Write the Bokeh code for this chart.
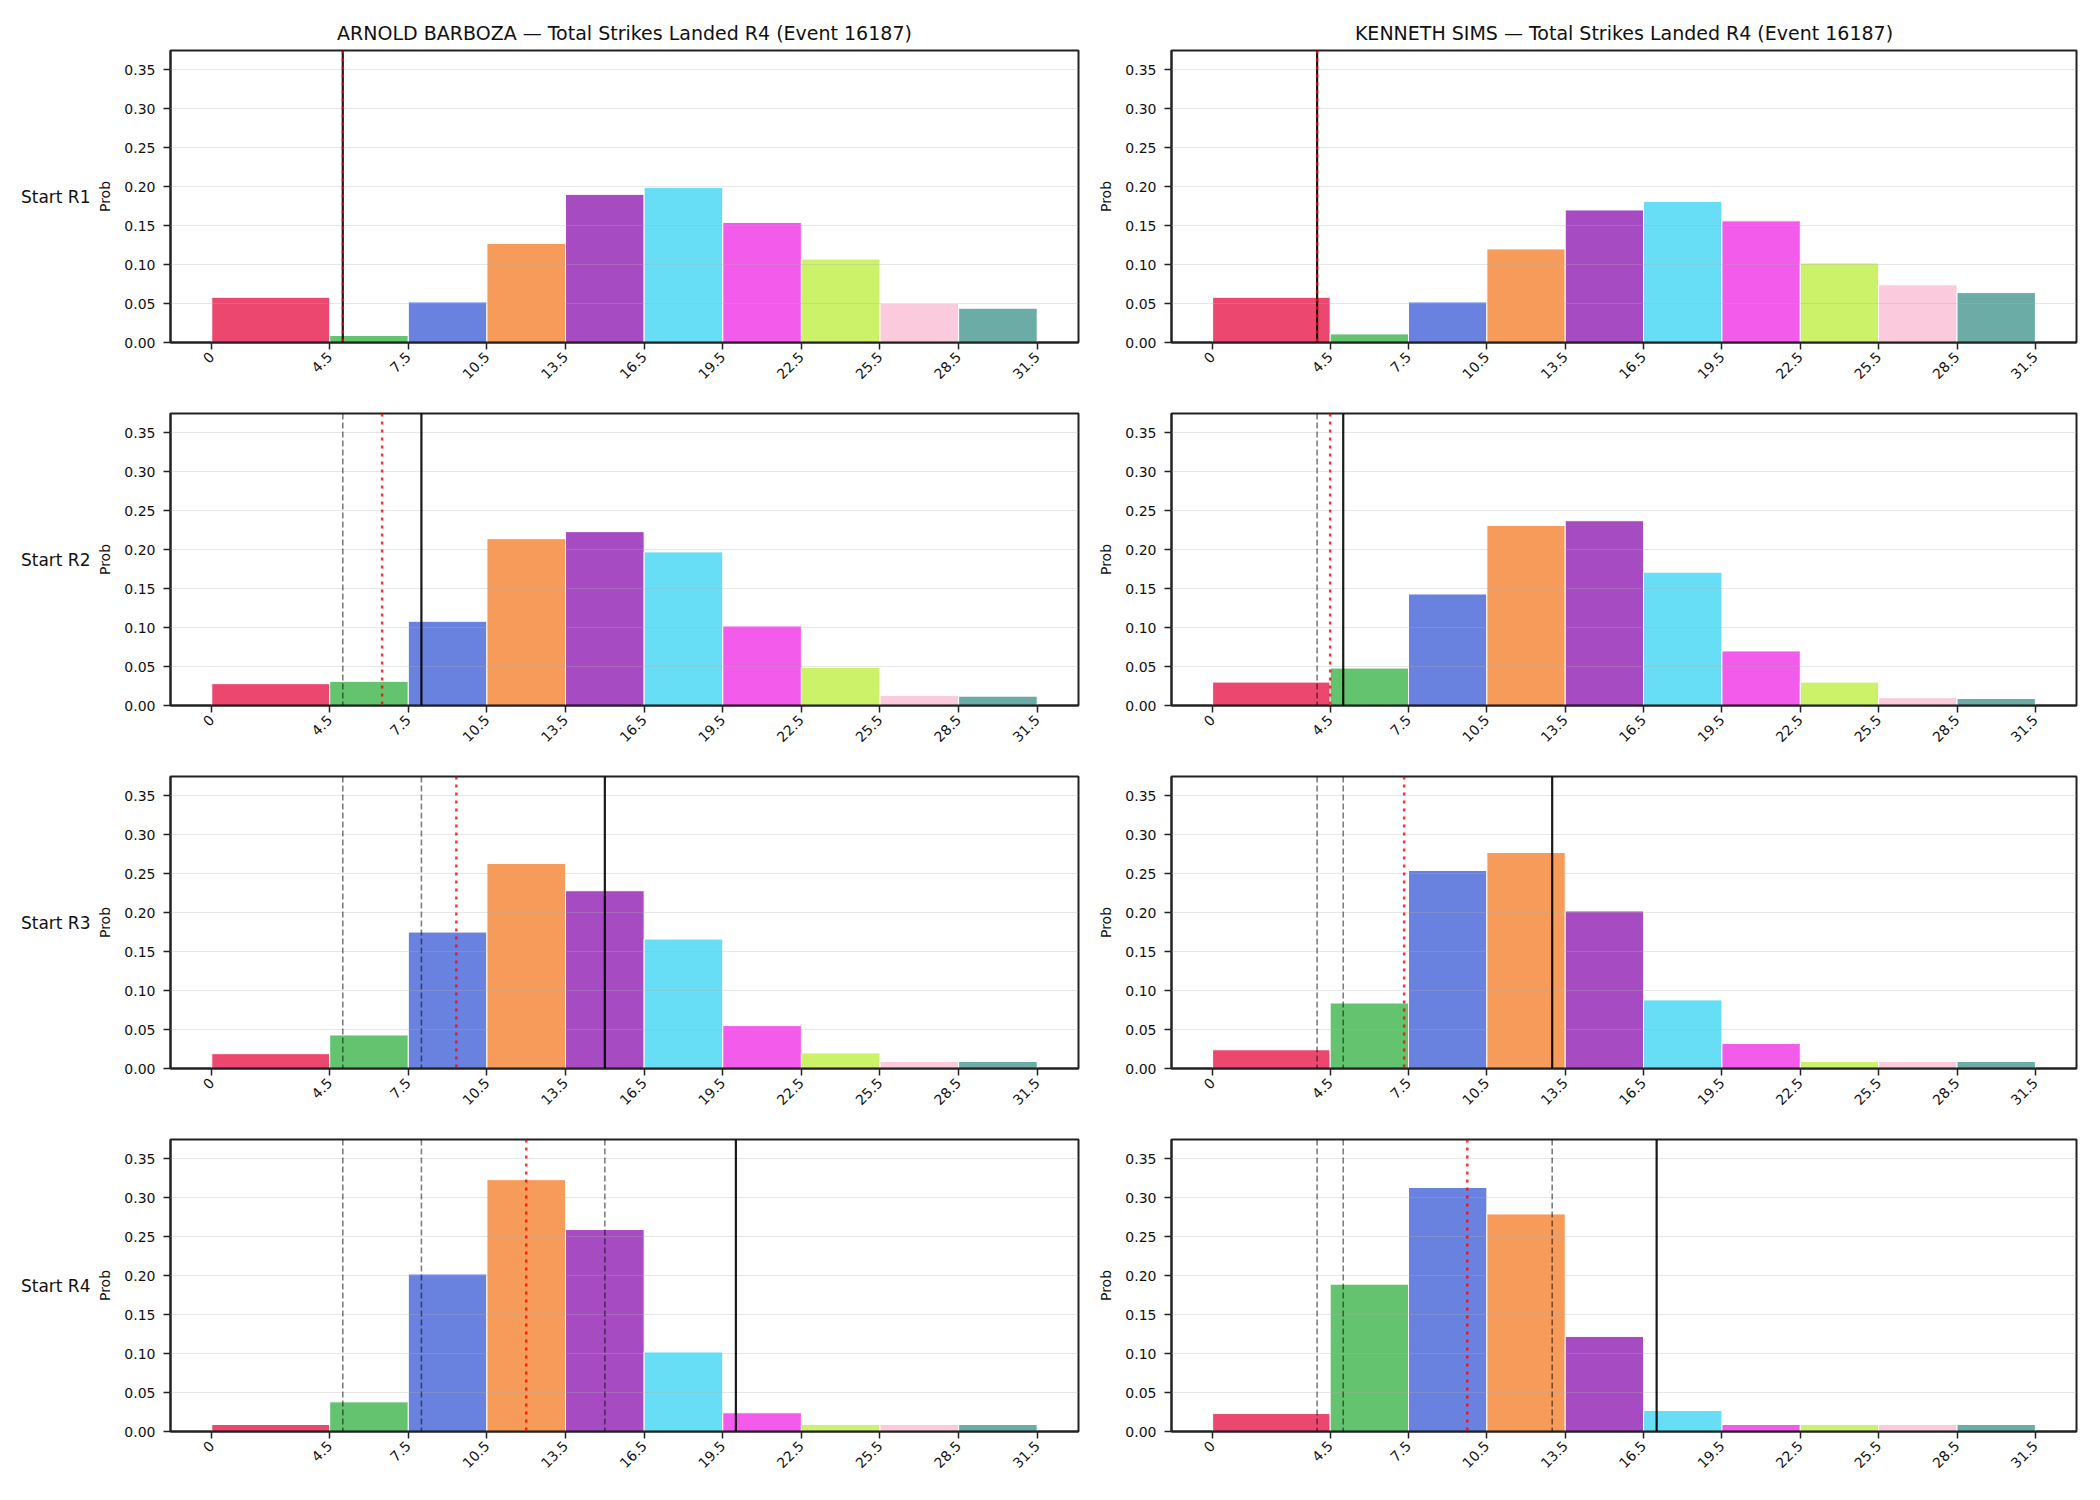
import math
import numpy as np
from bokeh.plotting import figure
from bokeh.layouts import column, row
from bokeh.models import FixedTicker, LinearAxis, Span, Range1d, NumeralTickFormatter
from bokeh.embed import file_html
from bokeh.resources import INLINE

# ---- data -------------------------------------------------------------
bin_edges = [0, 4.5, 7.5, 10.5, 13.5, 16.5, 19.5, 22.5, 25.5, 28.5, 31.5]
x_tick_labels = ["0", "4.5", "7.5", "10.5", "13.5", "16.5", "19.5", "22.5", "25.5", "28.5", "31.5"]
y_ticks = [0.0, 0.05, 0.10, 0.15, 0.20, 0.25, 0.30, 0.35]
bin_colors = ["#e6194b", "#3cb44b", "#4363d8", "#f58231", "#911eb4",
              "#42d4f4", "#f032e6", "#bfef45", "#fabed4", "#469990"]

fighters = ["ARNOLD BARBOZA", "KENNETH SIMS"]
row_labels = ["Start R1", "Start R2", "Start R3", "Start R4"]
stat_name = "Total Strikes Landed R4"
event_id = 16187

barboza_r1 = [0.058, 0.009, 0.052, 0.127, 0.190, 0.199, 0.154, 0.107, 0.050, 0.044]
barboza_r2 = [0.028, 0.031, 0.108, 0.214, 0.223, 0.197, 0.102, 0.049, 0.013, 0.012]
barboza_r3 = [0.019, 0.043, 0.175, 0.263, 0.228, 0.166, 0.055, 0.020, 0.009, 0.009]
barboza_r4 = [0.009, 0.038, 0.202, 0.323, 0.259, 0.102, 0.024, 0.009, 0.009, 0.009]

sims_r1 = [0.058, 0.011, 0.052, 0.120, 0.170, 0.181, 0.156, 0.102, 0.074, 0.064]
sims_r2 = [0.030, 0.048, 0.143, 0.231, 0.237, 0.171, 0.070, 0.030, 0.010, 0.009]
sims_r3 = [0.024, 0.084, 0.254, 0.277, 0.202, 0.088, 0.032, 0.009, 0.009, 0.009]
sims_r4 = [0.023, 0.189, 0.313, 0.279, 0.122, 0.027, 0.009, 0.009, 0.009, 0.009]

# cumulative landed strikes observed at each round start
barboza_landed = [5, 8, 15, 20]
sims_landed = [4, 5, 13, 17]

dists = [[barboza_r1, barboza_r2, barboza_r3, barboza_r4],
         [sims_r1, sims_r2, sims_r3, sims_r4]]
landed = [barboza_landed, sims_landed]

# ---- layout geometry ---------------------------------------------------
FONT = "DejaVu Sans"
FRAME_H = 292
col_geom = [dict(left=170, width=908, right=17), dict(left=76, width=905, right=24)]
row_geom = [dict(top=50, bottom=55), dict(top=16, bottom=55),
            dict(top=16, bottom=55), dict(top=16, bottom=69)]


def make_panel(ci, ri):
    cg, rg = col_geom[ci], row_geom[ri]
    title = f"{fighters[ci]} \u2014 {stat_name} (Event {event_id})" if ri == 0 else None
    p = figure(frame_width=cg["width"], frame_height=FRAME_H,
               min_border_left=cg["left"], min_border_right=cg["right"],
               min_border_top=rg["top"], min_border_bottom=rg["bottom"],
               x_range=Range1d(-1.575, 33.075), y_range=Range1d(0, 0.3745),
               output_backend="svg", toolbar_location=None, title=title,
               background_fill_color="white", border_fill_color="white")
    if title:
        p.title.text_font = FONT
        p.title.text_font_size = "19px"
        p.title.text_font_style = "normal"
        p.title.text_color = "#111111"
        p.title.align = "center"
        p.title.standoff = 14

    p.outline_line_color = "#222222"
    p.outline_line_width = 2
    p.outline_line_alpha = 1

    vals = dists[ci][ri]
    p.quad(left=bin_edges[:-1], right=bin_edges[1:], bottom=0, top=vals,
           fill_color=bin_colors, fill_alpha=0.8, line_color="white", line_width=1)

    p.xgrid.visible = False
    p.ygrid.ticker = FixedTicker(ticks=y_ticks)
    p.ygrid.grid_line_color = "#b0b0b0"
    p.ygrid.grid_line_alpha = 0.3
    p.ygrid.grid_line_width = 1
    p.ygrid.level = "annotation"

    # axes
    for ax in (p.xaxis[0], p.yaxis[0]):
        ax.axis_line_color = "#222222"
        ax.axis_line_width = 2
        ax.major_tick_line_color = "#222222"
        ax.major_tick_line_width = 1.5
        ax.major_tick_out = 7
        ax.major_tick_in = 0
        ax.minor_tick_line_color = None
        ax.major_label_text_font = FONT
        ax.major_label_text_font_size = "14px"
        ax.major_label_text_color = "#111111"

    xa = p.xaxis[0]
    xa.ticker = FixedTicker(ticks=bin_edges)
    xa.major_label_overrides = {e: lab for e, lab in zip(bin_edges, x_tick_labels)}
    xa.major_label_orientation = math.pi / 4
    xa.major_label_standoff = 5

    ya = p.yaxis[0]
    ya.ticker = FixedTicker(ticks=y_ticks)
    ya.formatter = NumeralTickFormatter(format="0.00")
    ya.major_label_standoff = 8
    ya.axis_label = "Prob"
    ya.axis_label_text_font = FONT
    ya.axis_label_text_font_size = "14px"
    ya.axis_label_text_font_style = "normal"
    ya.axis_label_text_color = "#111111"
    ya.axis_label_standoff = 8

    if ci == 0:
        lab = LinearAxis(ticker=FixedTicker(ticks=[]), axis_label=row_labels[ri],
                         axis_line_color=None, major_tick_line_color=None,
                         minor_tick_line_color=None, major_tick_out=0, major_tick_in=0,
                         major_label_standoff=0, axis_label_standoff=4,
                         axis_label_orientation="horizontal",
                         axis_label_text_font=FONT, axis_label_text_font_size="17px",
                         axis_label_text_font_style="normal",
                         axis_label_text_color="#111111")
        p.add_layout(lab, "left")

    # reference lines: current total, earlier totals, running mean
    obs = landed[ci]
    p.add_layout(Span(location=obs[ri], dimension="height", line_color="black",
                      line_alpha=0.9, line_width=2.2, level="overlay"))
    for v in obs[:ri]:
        p.add_layout(Span(location=v, dimension="height", line_color="black",
                          line_alpha=0.5, line_width=1.6, line_dash="6 3", level="overlay"))
    p.add_layout(Span(location=float(np.mean(obs[:ri + 1])), dimension="height",
                      line_color="red", line_alpha=0.8, line_width=2.5,
                      line_dash="3 5", level="overlay"))
    return p


rows = [row(*[make_panel(ci, ri) for ci in range(2)], spacing=0) for ri in range(4)]
layout = column(*rows, spacing=0)

open("out.html", "w").write(file_html(layout, INLINE))
